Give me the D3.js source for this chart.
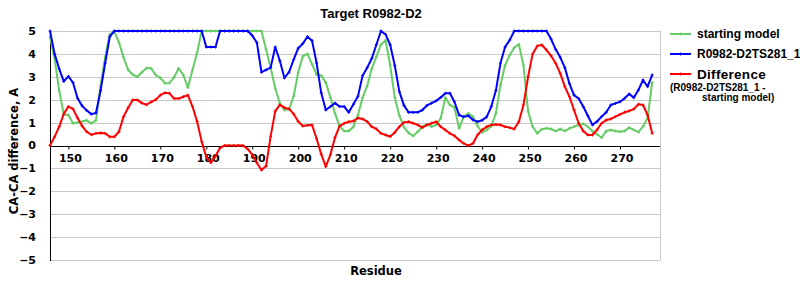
<!DOCTYPE html>
<html>
<head>
<meta charset="utf-8">
<script src="https://cdn.jsdelivr.net/npm/d3@7"></script>
<style>
  body { margin: 0; background: #fff; }
  svg { display: block; }
  .tick-lbl { font-family: "DejaVu Sans", sans-serif; font-weight: bold; font-size: 11px; }
  .leg { font-family: "Liberation Sans", Arial, sans-serif; font-weight: bold; }
</style>
</head>
<body>
<script>
// residue numbers along the x axis
var residues = [146,147,148,149,150,151,152,153,154,155,156,157,158,159,160,
  161,162,163,164,165,166,167,168,169,170,171,172,173,174,175,176,177,178,179,180,
  181,182,183,184,185,186,187,188,189,190,191,192,193,194,195,196,197,198,199,200,
  201,202,203,204,205,206,207,208,209,210,211,212,213,214,215,216,217,218,219,220,
  221,222,223,224,225,226,227,228,229,230,231,232,233,234,235,236,237,238,239,240,
  241,242,243,244,245,246,247,248,249,250,251,252,253,254,255,256,257,258,259,260,
  261,262,263,264,265,266,267,268,269,270,271,272,273,274,275,276,277];

var startingModel = [4.75,3.8,2.4,1.35,1.33,0.97,1.0,1.05,1.1,0.97,1.1,2.6,3.85,4.85,4.97,
  4.5,3.85,3.3,3.1,3.0,3.2,3.38,3.37,3.08,2.95,2.72,2.73,2.98,3.37,3.08,2.53,3.3,4.05,5,5,
  5,5,5,5,5,5,5,5,5,5,5,5,4.2,3.4,2.5,1.85,1.55,1.58,2.15,3.2,
  3.9,4.0,3.55,3.1,3.05,2.75,2.1,1.4,0.85,0.63,0.63,0.82,1.33,2.1,2.6,3.35,3.88,4.4,4.6,3.5,
  2.1,1.3,0.8,0.55,0.42,0.6,0.82,0.92,0.82,0.9,1.19,2.09,1.77,1.65,0.75,1.26,1.4,1.26,0.85,0.57,
  0.68,0.85,1.4,2.64,3.5,3.95,4.27,4.42,3.5,1.5,0.82,0.53,0.71,0.75,0.72,0.63,0.72,0.63,0.75,0.82,
  0.9,0.95,0.82,0.63,0.49,0.34,0.63,0.68,0.63,0.6,0.63,0.78,0.68,0.58,0.82,1.2,2.75];

var model281 = [5,4.0,3.35,2.8,3.02,2.75,2.06,1.73,1.53,1.37,1.42,2.4,3.6,4.75,5,
  5,5,5,5,5,5,5,5,5,5,5,5,5,5,5,5,5,5,5,4.3,
  4.3,4.3,5,5,5,5,5,5,5,4.8,4.5,3.2,3.3,3.4,4.3,3.7,2.95,3.2,3.75,4.25,
  4.45,4.75,4.58,3.6,2.3,1.55,1.7,1.85,1.7,1.7,1.45,1.8,2.15,3.05,3.4,3.8,4.4,5.0,4.85,4.4,
  3.5,2.35,1.75,1.45,1.45,1.45,1.55,1.75,1.85,1.95,2.1,2.28,2.28,1.9,1.33,1.25,1.3,1.12,1.04,1.1,
  1.25,1.7,2.4,3.6,4.3,4.6,5,5,5,5,5,5,5,5,4.65,4.2,3.85,3.4,2.7,2.2,
  2.05,1.7,1.3,0.9,1.05,1.26,1.45,1.77,1.84,1.91,2.06,2.25,2.09,2.42,2.86,2.57,3.08];

var difference = [0,0.38,0.82,1.38,1.7,1.6,1.2,0.85,0.6,0.47,0.53,0.55,0.53,0.38,0.38,
  0.6,1.26,1.65,1.99,1.99,1.85,1.78,1.9,2.0,2.2,2.3,2.28,2.05,2.05,2.13,2.2,1.7,1.05,0.17,-0.5,
  -0.75,-0.47,-0.1,0,0,0,0,0,-0.15,-0.4,-0.75,-1.07,-0.9,0.4,1.5,1.77,1.65,1.6,1.38,1.05,
  0.85,0.88,0.9,0.3,-0.38,-0.92,-0.4,0.35,0.85,0.97,1.04,1.07,1.2,1.16,1.04,0.82,0.72,0.53,0.46,0.39,
  0.57,0.82,1.01,1.04,0.97,0.9,0.78,0.9,0.97,1.04,0.82,0.68,0.53,0.42,0.24,0.09,-0.01,0.09,0.46,0.68,
  0.82,0.9,0.92,0.9,0.82,0.78,0.72,1.04,1.77,3.0,4.0,4.35,4.39,4.17,3.92,3.59,3.15,2.57,2.13,1.55,
  0.97,0.63,0.46,0.46,0.68,0.97,1.11,1.16,1.26,1.36,1.45,1.51,1.59,1.8,1.77,1.33,0.53];

var xTicks = [150,160,170,180,190,200,210,220,230,240,250,260,270];
var yTicks = [-5,-4,-3,-2,-1,0,1,2,3,4,5];

var series = [
  {name: "starting model", values: startingModel, color: "#66cc66"},
  {name: "R0982-D2TS281_1", values: model281, color: "#0000ff"},
  {name: "Difference", values: difference, color: "#ff0000"}
];

var width = 800, height = 300;
var plotLeft = 50, plotRight = 660, plotTop = 31, plotBottom = 260;

var svg = d3.select("body").append("svg")
    .attr("width", width)
    .attr("height", height);

var x = d3.scaleLinear().domain([146, 278.7]).range([plotLeft, plotRight]);
var y = d3.scaleLinear().domain([-5, 5]).range([plotBottom, plotTop]);

// grid
svg.append("g").selectAll("line")
    .data(yTicks.filter(function(d){ return d != 0; }))
    .enter().append("line")
    .attr("x1", plotLeft).attr("x2", plotRight)
    .attr("y1", function(d){ return Math.round(y(d)) + 0.5; })
    .attr("y2", function(d){ return Math.round(y(d)) + 0.5; })
    .attr("stroke", "#c8c8c8");

svg.append("line")
    .attr("x1", plotRight + 0.5).attr("x2", plotRight + 0.5)
    .attr("y1", plotTop).attr("y2", plotBottom)
    .attr("stroke", "#c8c8c8");

// y labels
svg.append("g").selectAll("text")
    .data(yTicks)
    .enter().append("text")
    .attr("class", "tick-lbl")
    .attr("x", 36)
    .attr("y", function(d){ return y(d); })
    .attr("dy", "0.36em")
    .attr("text-anchor", "end")
    .text(function(d){ return d < 0 ? "\u2212" + (-d) : d; });

// x axis on zero line
var xAxis = svg.append("g")
    .attr("transform", "translate(0," + (Math.round(y(0)) + 0.5) + ")")
    .call(d3.axisBottom(x).tickValues(xTicks).tickSize(3).tickSizeOuter(0).tickPadding(5));
xAxis.select(".domain").attr("stroke", "#000").attr("d", "M" + plotLeft + ",0H" + plotRight);
xAxis.selectAll("text")
    .attr("class", "tick-lbl")
    .attr("dx", "1.5px")
    .attr("fill", "#000");

svg.append("line")
    .attr("x1", plotLeft + 0.5).attr("x2", plotLeft + 0.5)
    .attr("y1", plotTop).attr("y2", plotBottom + 1)
    .attr("stroke", "#000");

// series lines
var line = d3.line()
    .x(function(d, i){ return x(residues[i]); })
    .y(function(d){ return y(d); });

var cross = "M-1.5,0H1.5M0,-1.5V1.5";

series.forEach(function(s) {
    svg.append("path")
        .datum(s.values)
        .attr("d", line)
        .attr("fill", "none")
        .attr("stroke", s.color)
        .attr("stroke-width", 2)
        .attr("stroke-linejoin", "round");
    svg.append("g").selectAll("path")
        .data(s.values)
        .enter().append("path")
        .attr("d", cross)
        .attr("transform", function(d, i){ return "translate(" + x(residues[i]) + "," + y(d) + ")"; })
        .attr("stroke", s.color)
        .attr("stroke-width", 1)
        .attr("fill", "none");
});

// titles
svg.append("text")
    .attr("x", 371).attr("y", 18)
    .attr("text-anchor", "middle")
    .style("font-family", "'Liberation Sans', Arial, sans-serif")
    .style("font-weight", "bold")
    .style("font-size", "13px")
    .text("Target R0982-D2");

svg.append("text")
    .attr("transform", "translate(18,151) rotate(-90)")
    .attr("text-anchor", "middle")
    .style("font-family", "'DejaVu Sans', sans-serif")
    .style("font-weight", "bold")
    .style("font-size", "11.5px")
    .text("CA-CA difference, A");

svg.append("text")
    .attr("x", 376).attr("y", 275)
    .attr("text-anchor", "middle")
    .style("font-family", "'DejaVu Sans', sans-serif")
    .style("font-weight", "bold")
    .style("font-size", "11.5px")
    .text("Residue");

// legend
var legY = [34, 54, 74];
var leg = svg.append("g").selectAll("g")
    .data(series)
    .enter().append("g")
    .attr("transform", function(d, i){ return "translate(670," + legY[i] + ")"; });

leg.append("line")
    .attr("x1", 0).attr("x2", 21)
    .attr("stroke", function(d){ return d.color; })
    .attr("stroke-width", 2);
leg.append("path")
    .attr("d", cross)
    .attr("transform", "translate(10.5,0)")
    .attr("stroke", function(d){ return d.color; });
leg.append("text")
    .attr("class", "leg")
    .attr("x", 27)
    .attr("y", function(d, i){ return i == 2 ? 4.5 : 4; })
    .style("font-size", function(d, i){ return i == 2 ? "13.5px" : "12px"; })
    .style("letter-spacing", function(d, i){ return i == 2 ? "0.3px" : "0px"; })
    .text(function(d){ return d.name; });

svg.append("text")
    .attr("class", "leg")
    .attr("x", 670).attr("y", 91)
    .style("font-size", "10px")
    .text("(R0982-D2TS281_1 -");
svg.append("text")
    .attr("class", "leg")
    .attr("x", 702).attr("y", 101)
    .style("font-size", "10px")
    .text("starting model)");
</script>
</body>
</html>
